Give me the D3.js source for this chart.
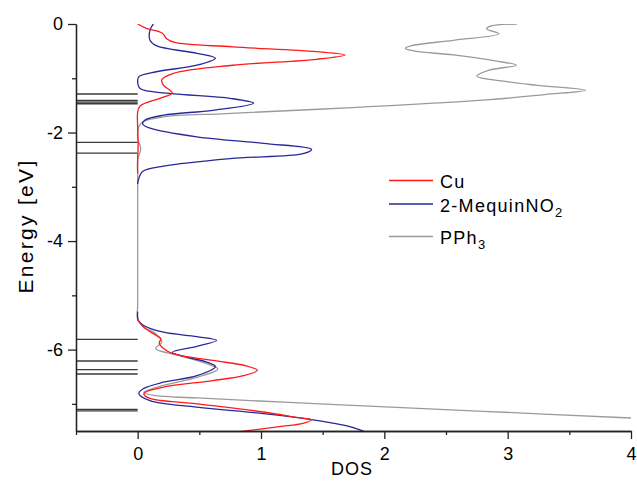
<!DOCTYPE html>
<html>
<head>
<meta charset="utf-8">
<script src="https://cdn.jsdelivr.net/npm/d3@7"></script>
<style>
  html, body { margin: 0; padding: 0; background: #fff; }
  svg { display: block; font-family: "Liberation Sans", Arial, sans-serif; }
</style>
</head>
<body>
<svg id="chart" width="637" height="488"></svg>
<script>
// ---- data: [energy (eV), DOS] ----
const cuUpper = [[0,0],[-0.08,0.07],[-0.17,0.2],[-0.27,0.235],[-0.34,0.3],[-0.42,0.77],[-0.51,1.45],[-0.57,1.68],[-0.65,1.45],[-0.76,0.77],[-0.91,0.29],[-1.03,0.195],[-1.13,0.21],[-1.27,0.28],[-1.37,0.18],[-1.51,0.02],[-1.63,0],[-1.9,0],[-2.2,0.004],[-2.5,0],[-2.75,0]];
const cuLower = [[-5.45,0],[-5.58,0.045],[-5.74,0.15],[-5.8,0.187],[-5.88,0.175],[-5.98,0.21],[-6.08,0.29],[-6.2,0.61],[-6.3,0.88],[-6.38,0.97],[-6.48,0.86],[-6.57,0.61],[-6.69,0.21],[-6.78,0.065],[-6.82,0.05],[-6.9,0.1],[-7.0,0.48],[-7.15,1.02],[-7.26,1.32],[-7.29,1.41],[-7.36,1.34],[-7.42,1.15],[-7.51,0.83]];
const mequinUpper = [[0,0.127],[-0.11,0.1],[-0.3,0.1],[-0.4,0.15],[-0.54,0.48],[-0.63,0.63],[-0.76,0.48],[-0.88,0.15],[-0.97,0.01],[-1.06,0],[-1.19,0.02],[-1.28,0.26],[-1.37,0.75],[-1.46,0.94],[-1.59,0.61],[-1.68,0.21],[-1.77,0.06],[-1.84,0.04],[-1.92,0.1],[-2.08,0.48],[-2.2,1.02],[-2.31,1.41],[-2.39,1.34],[-2.48,0.75],[-2.62,0.21],[-2.72,0.04],[-2.88,0.005],[-2.95,0]];
const mequinLower = [[-5.3,0],[-5.46,0.005],[-5.55,0.045],[-5.68,0.21],[-5.76,0.48],[-5.83,0.64],[-5.94,0.48],[-6.05,0.28],[-6.14,0.4],[-6.23,0.56],[-6.31,0.63],[-6.48,0.48],[-6.6,0.21],[-6.72,0.045],[-6.81,0.01],[-6.94,0.1],[-7.06,0.48],[-7.18,1.02],[-7.29,1.41],[-7.35,1.57],[-7.42,1.72],[-7.52,1.85]];
const pph3 = [[0,3.075],[-0.04,2.86],[-0.09,2.83],[-0.18,2.93],[-0.3,2.56],[-0.4,2.22],[-0.45,2.17],[-0.5,2.25],[-0.57,2.56],[-0.68,2.9],[-0.76,3.07],[-0.85,2.85],[-0.96,2.75],[-1.05,2.95],[-1.13,3.24],[-1.22,3.63],[-1.3,3.3],[-1.4,2.83],[-1.54,1.74],[-1.65,0.72],[-1.71,0.21],[-1.8,0.045],[-1.89,0.01],[-2.1,0],[-2.3,0.025],[-2.5,0],[-2.8,0],[-3.2,0],[-3.6,0],[-4.0,0],[-4.4,0],[-4.8,0],[-5.2,0],[-5.45,0],[-5.6,0.06],[-5.71,0.15],[-5.86,0.195],[-5.98,0.145],[-6.11,0.34],[-6.26,0.56],[-6.36,0.65],[-6.51,0.48],[-6.66,0.21],[-6.79,0.05],[-6.85,0.15],[-6.89,0.48],[-7.02,1.65],[-7.137,2.8],[-7.26,4.0]];
const levels = [-1.29,-1.41,-1.44,-1.47,-2.18,-2.38,-5.81,-6.21,-6.37,-6.45,-7.10,-7.13];
const xMajorTicks = [0,1,2,3,4];
const xMinorTicks = [-0.5,0.5,1.5,2.5,3.5];
const yMajorTicks = [0,-2,-4,-6];
const yMinorTicks = [-1,-3,-5,-7];
const seriesNames = ["Cu","2-MequinNO","PPh"];
const seriesSubs = ["","2","3"];
const seriesColors = ["#ff1a1a","#28289a","#9a9a9a"];

// ---- scales ----
const svg = d3.select("#chart");
const x = d3.scaleLinear().domain([-0.5, 4]).range([76, 631]);
const y = d3.scaleLinear().domain([0, -7.5]).range([24, 431]);

svg.append("defs").append("clipPath").attr("id","plot")
  .append("rect").attr("x",76).attr("y",24).attr("width",555).attr("height",407);

const line = d3.line().x(d => x(d[1])).y(d => y(d[0])).curve(d3.curveCatmullRom.alpha(0.5));

// energy levels
svg.append("g").selectAll("line").data(levels).join("line")
  .attr("x1", x(-0.5)).attr("x2", x(0))
  .attr("y1", d => y(d)).attr("y2", d => y(d))
  .attr("stroke", "#3a3a3a").attr("stroke-width", 1.3);

const g = svg.append("g").attr("clip-path","url(#plot)");
g.append("path").attr("d", line(pph3)).attr("fill","none").attr("stroke",seriesColors[2]).attr("stroke-width",1.3);
[mequinUpper, mequinLower].forEach(s => g.append("path").attr("d", line(s)).attr("fill","none").attr("stroke",seriesColors[1]).attr("stroke-width",1.3));
[cuUpper, cuLower].forEach(s => g.append("path").attr("d", line(s)).attr("fill","none").attr("stroke",seriesColors[0]).attr("stroke-width",1.3));

// ---- axes ----
function styleAxis(sel) {
  sel.selectAll("path, line").attr("stroke","#222").attr("stroke-width",1.3);
  sel.selectAll("text").attr("fill","#000").attr("font-size","18px").attr("font-family",'"Liberation Sans", Arial, sans-serif');
}
svg.append("g").attr("transform","translate(0,431)")
  .call(d3.axisBottom(x).tickValues(xMajorTicks).tickSize(8).tickSizeOuter(0).tickPadding(8).tickFormat(d => String(d)))
  .call(styleAxis);
svg.append("g").attr("transform","translate(0,431)")
  .call(d3.axisBottom(x).tickValues(xMinorTicks).tickSize(4).tickSizeOuter(0).tickFormat(""))
  .call(styleAxis);
svg.append("g").attr("transform","translate(76,0)")
  .call(d3.axisLeft(y).tickValues(yMajorTicks).tickSize(8).tickSizeOuter(0).tickPadding(5).tickFormat(d => String(d)))
  .call(styleAxis);
svg.append("g").attr("transform","translate(76,0)")
  .call(d3.axisLeft(y).tickValues(yMinorTicks).tickSize(4).tickSizeOuter(0).tickFormat(""))
  .call(styleAxis);

// axis titles
svg.append("text").attr("x", 352).attr("y", 475).attr("text-anchor","middle")
  .attr("font-size","18px").attr("letter-spacing","1px").text("DOS");
svg.append("text").attr("transform","translate(33,226) rotate(-90)").attr("text-anchor","middle")
  .attr("font-size","21px").attr("letter-spacing","2.3px").text("Energy [eV]");

// legend
const legY = [180.5, 204, 236.5];
const leg = svg.append("g");
seriesNames.forEach((n, i) => {
  leg.append("line").attr("x1",389).attr("x2",433).attr("y1",legY[i]).attr("y2",legY[i])
    .attr("stroke",seriesColors[i]).attr("stroke-width",1.3);
  const t = leg.append("text").attr("x",440).attr("y",legY[i]+7.5).attr("font-size","18px")
    .attr("letter-spacing","1.3px").text(n);
  if (seriesSubs[i]) t.append("tspan").attr("dy",5).attr("font-size","13px").text(seriesSubs[i]);
});
</script>
</body>
</html>
